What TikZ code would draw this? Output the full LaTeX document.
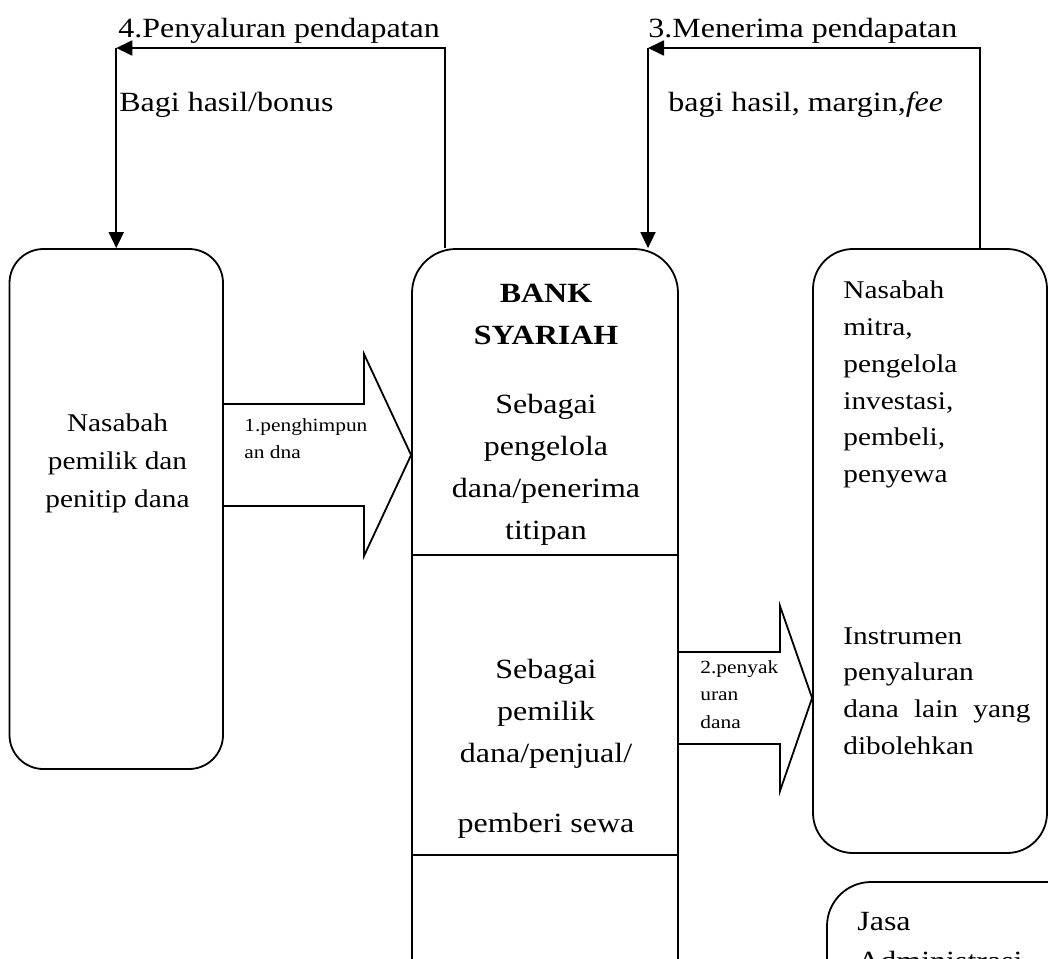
\documentclass[tikz,border=0pt]{standalone}
\usepackage{fontspec}
\setmainfont{Liberation Serif}[FakeStretch=1.15]
\usetikzlibrary{arrows.meta,positioning}
\tikzset{
  panel/.style={draw, line width=0.9pt, rounded corners=#1, inner sep=0pt},
  flow/.style={line width=0.9pt, -{Triangle[length=8pt,width=7.5pt]}},
  fatarrow/.style={line width=0.9pt, line join=miter},
  lbl/.style={inner sep=0pt, font=\fontsize{13.9}{21}\selectfont},
  boxtxt/.style={inner sep=0pt, font=\fontsize{12.75}{19}\selectfont},
  rtxt/.style={inner sep=0pt, align=left, font=\fontsize{12.75}{18.4}\selectfont},
  smalltxt/.style={inner sep=0pt, align=left, font=\fontsize{9.3}{13.7}\selectfont},
}

\begin{document}
\begin{tikzpicture}[x=0.5pt, y=-0.5pt]
\useasboundingbox (0,0) rectangle (1048,958);
\clip (0,0) rectangle (1048,958);

% the four boxes
\node[panel=17pt, minimum width=106.75pt, minimum height=260pt] (lbox) at (116.25,509) {};
\node[panel=22pt, minimum width=133pt, minimum height=425pt] (bank) at (545,674) {};
\node[panel=20pt, minimum width=117pt, minimum height=302pt] (rbox) at (930,551) {};
\node[panel=22pt, minimum width=137pt, minimum height=109pt] (jbox) at (964,991) {};

% bank compartments
\draw[line width=0.9pt] (bank.west |- 0,555) -- (bank.east |- 0,555);
\draw[line width=0.9pt] (bank.west |- 0,855) -- (bank.east |- 0,855);

% income flows on top
\coordinate (s4) at (445,48);
\coordinate (c4) at (lbox.north |- 0,48);
\coordinate (s3) at (980,48);
\coordinate (c3) at (648,48);
\draw[flow] (s4 |- bank.north) -- (s4) -- (c4);
\draw[flow] (c4) -- (lbox.north);
\draw[flow] (s3 |- rbox.north) -- (s3) -- (c3);
\draw[flow] (c3) -- (c3 |- bank.north);

\node[lbl, anchor=base west] (t4) at (118,37.5) {4.Penyaluran pendapatan};
\node[lbl, anchor=base west] (b4) at (119,111) {Bagi hasil/bonus};
\node[lbl, anchor=base west] (t3) at (648,37.5) {3.Menerima pendapatan};
\node[lbl, anchor=base west] (b3) at (668,111) {bagi hasil, margin,\textit{fee}};

% block arrows
\draw[fatarrow] (lbox.east |- 0,404) -- (364,404) -- (364,354) -- (bank.west |- 0,455)
  -- (364,556) -- (364,506) -- (lbox.east |- 0,506);
\draw[fatarrow] (bank.east |- 0,652) -- (780,652) -- (780,606) -- (rbox.west |- 0,698)
  -- (780,791) -- (780,744) -- (bank.east |- 0,744);
\node[smalltxt, anchor=north west] (l1) at (244,418) {1.penghimpun\\an dna};
\node[smalltxt, anchor=north west] (l2) at (700,660) {2.penyak\\uran\\dana};

% texts in boxes
\node[boxtxt, align=center, anchor=north] (ltxt) at (117.5,413) {Nasabah\\pemilik dan\\penitip dana};
\node[lbl, align=center, anchor=north] (btop) at (546,283.5)
  {\textbf{BANK}\\\textbf{SYARIAH}\\[13.5pt]Sebagai\\pengelola\\dana/penerima\\titipan};
\node[lbl, align=center, anchor=north] (blow) at (546,658.5)
  {Sebagai\\pemilik\\dana/penjual/\\[14pt]pemberi sewa};
\node[rtxt, anchor=north west] (rtop) at (843,280.5)
  {Nasabah\\mitra,\\pengelola\\investasi,\\pembeli,\\penyewa};
\node[rtxt, anchor=north west] (rlow) at (843,627)
  {Instrumen\\penyaluran\\\makebox[93.5pt][s]{dana lain yang}\\dibolehkan};
\node[lbl, align=left, anchor=north west, font=\fontsize{13.9}{20}\selectfont] (jtxt) at (857,912)
  {Jasa\\Administrasi};
\end{tikzpicture}
\end{document}
